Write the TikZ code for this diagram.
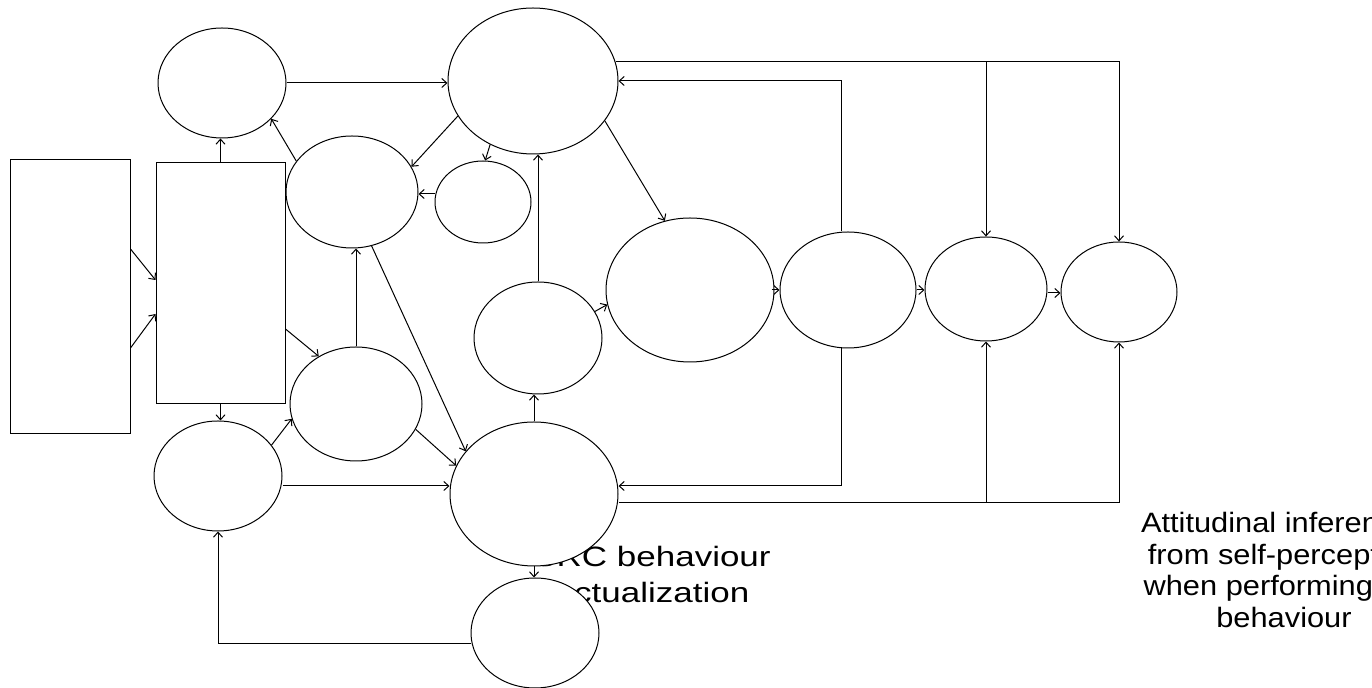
\documentclass[tikz,border=0pt]{standalone}
\usepackage{fontspec}
\setmainfont{Liberation Sans}
\usetikzlibrary{shapes.geometric,arrows.meta}
\begin{document}
\begin{tikzpicture}[x=0.5pt,y=-0.5pt,
  ell/.style={draw, ellipse, fill=white, inner sep=0pt, line width=0.5pt},
  box/.style={draw, rectangle, fill=white, inner sep=0pt, line width=0.5pt},
  conn/.style={line width=0.5pt},
  arr/.style={conn, -{Straight Barb[length=2.5pt,width=4.5pt]}},
  lbl/.style={inner sep=0pt, anchor=base, font=\fontsize{14pt}{17pt}\selectfont}]
\useasboundingbox (0,0) rectangle (1372,688);
\clip (0,0) rectangle (1372,688);
% texts (partly covered by the ellipses)
\node[lbl] (src1) at (652,567) {\scalebox{1.25}[1]{SRC behaviour}};
\node[lbl] (src2) at (652,603) {\scalebox{1.25}[1]{actualization}};
\node[lbl] (att1) at (1284,533) {\scalebox{1.1}[1]{Attitudinal inferences}};
\node[lbl] (att2) at (1284,564.5) {\scalebox{1.1}[1]{from self-perception}};
\node[lbl] (att3) at (1284,596) {\scalebox{1.1}[1]{when performing\phantom{\ the}}};
\node[lbl] (att4) at (1284,627.5) {\scalebox{1.1}[1]{behaviour}};
% shapes
\node[box, minimum width=60pt, minimum height=137pt] (A) at (70,297) {};
\node[box, minimum width=64.5pt, minimum height=120.5pt] (B) at (220.5,283.5) {};
\node[ell, minimum width=64pt, minimum height=55pt] (E1) at (222,83) {};
\node[ell, minimum width=66pt, minimum height=56pt] (E2) at (352,192) {};
\node[ell, minimum width=66pt, minimum height=57pt] (E3) at (356,404) {};
\node[ell, minimum width=64pt, minimum height=55pt] (E4) at (218,476) {};
\node[ell, minimum width=85pt, minimum height=73pt] (E5) at (533,81) {};
\node[ell, minimum width=48pt, minimum height=41pt] (E6) at (483,202) {};
\node[ell, minimum width=64pt, minimum height=56pt] (E7) at (538,338) {};
\node[ell, minimum width=84pt, minimum height=72pt] (E8) at (690,290) {};
\node[ell, minimum width=68pt, minimum height=58pt] (E9) at (848,290) {};
\node[ell, minimum width=61pt, minimum height=52pt] (E10) at (986,289) {};
\node[ell, minimum width=58pt, minimum height=50pt] (E11) at (1119,292) {};
\node[ell, minimum width=84pt, minimum height=72pt] (E12) at (534,494) {};
\node[ell, minimum width=64pt, minimum height=55pt] (E13) at (535,633) {};
% connectors
\draw[arr] ([yshift=24pt]A.east) -- ([yshift=1.75pt]B.west);
\draw[arr] ([yshift=-25.5pt]A.east) -- ([yshift=-15.25pt]B.west);
\draw[arr] (B.north) -- (B.north |- E1.south);
\draw[arr] (B.south) -- (B.south |- E4.north);
\draw[arr] ([yshift=-22.75pt]B.east) -- (E3.128);
\draw[arr] (E2.151) -- (E1.-36);
\draw[arr] (E1.east) -- (E1.east -| E5.west);
\draw[arr] (E5.205) -- (E2.23);
\draw[arr] (E5.236) -- (E6.87);
\coordinate (e6w) at ([yshift=4pt]E6.west);
\draw[arr] (e6w) -- (e6w -| E2.east);
\draw[arr] (E5.-29) -- (E8.110);
\draw[arr] (E7.north) -- (E7.north |- E5.south);
\draw[arr] (E3.north) -- (E3.north |- E2.south);
\draw[arr] (E2.-70) -- (E12.148);
\draw[arr] (E3.-23) -- (E12.160);
\draw[arr] (E4.30) -- (E3.193);
\coordinate (e4e) at ([yshift=-5pt]E4.east);
\draw[arr] (e4e) -- (e4e -| E12.west);
\draw[arr] (E12.north) -- (E12.north |- E7.south);
\draw[arr] (E12.south) -- (E12.south |- E13.north);
\coordinate (e13w) at ([yshift=-5.5pt]E13.west);
\draw[arr] (e13w) -| (E4.south);
\draw[arr] (E7.25) -- (E8.190);
\draw[arr] ([xshift=-1.5pt]E8.east) -- (E9.west);
\draw[arr] (E9.east) -- (E9.east -| E10.west);
\coordinate (e10e) at ([yshift=-2pt]E10.east);
\draw[arr] (e10e) -- (e10e -| E11.west);
\coordinate (e9n) at ([xshift=-3.5pt]E9.north);
\draw[arr] (e9n) |- (E5.east);
\coordinate (a0) at (E5.13);
\coordinate (j1) at (E10.north |- a0);
\draw[arr] (a0) -| (E11.north);
\draw[arr] (j1) -- (E10.north);
\coordinate (e9s) at ([xshift=-3.5pt]E9.south);
\coordinate (e12e) at ([yshift=4pt]E12.east);
\draw[arr] (e9s) |- (e12e);
\coordinate (b0) at ([yshift=-4.5pt]E12.east);
\coordinate (j2) at (E10.south |- b0);
\draw[arr] (b0) -| (E11.south);
\draw[arr] (j2) -- (E10.south);
\end{tikzpicture}
\end{document}
